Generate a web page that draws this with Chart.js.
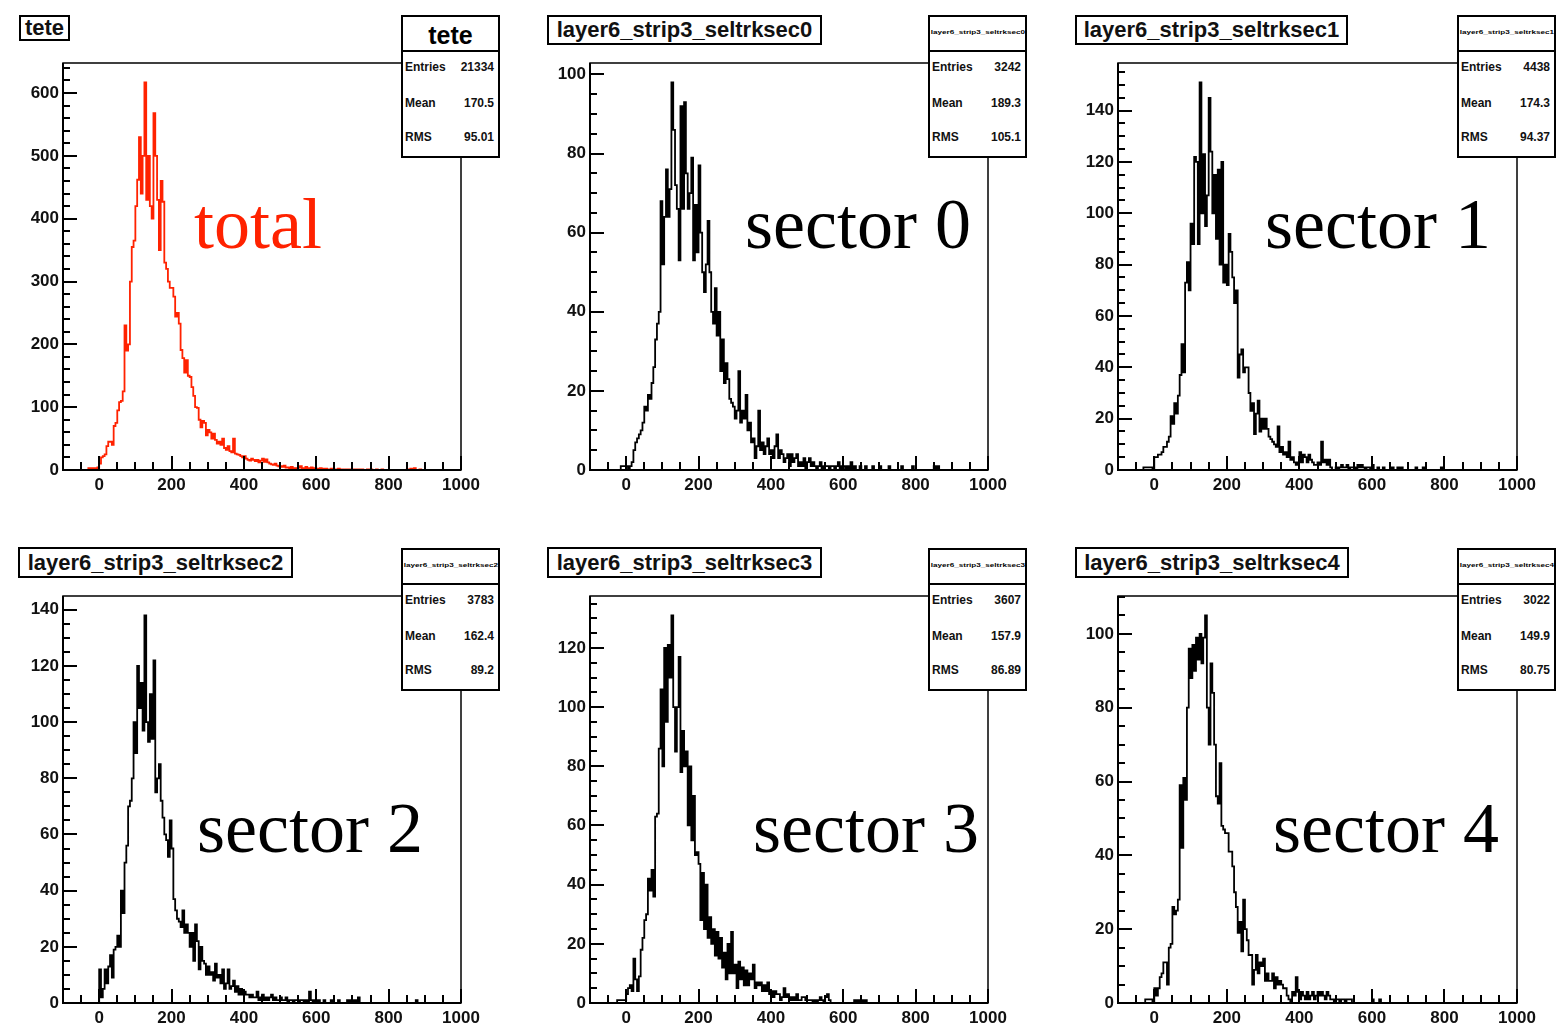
<!DOCTYPE html>
<html>
<head>
<meta charset="utf-8">
<title>layer6 strip3 seltrk</title>
<script src="https://cdn.jsdelivr.net/npm/chart.js@4"></script>
<style>
  html, body { margin: 0; padding: 0; background: #fff; }
  body { position: relative; width: 1556px; height: 1023px; overflow: hidden;
         font-family: "Liberation Sans", Arial, sans-serif; color: #000; }
  canvas { position: absolute; }
  .title { position: absolute; box-sizing: border-box; border: 2px solid #000; background: #fff;
           font-weight: bold; font-size: 22px; text-align: center; white-space: nowrap; color: #111; }
  .stats { position: absolute; box-sizing: border-box; width: 99px; height: 143px;
           border: 2px solid #000; background: #fff; z-index: 2; }
  .stats .hdr { position: absolute; left: 0; right: 0; top: 0; height: 33px; border-bottom: 2px solid #000;
                text-align: center; font-weight: bold; white-space: nowrap; overflow: visible; }
  .stats .hdr.big { font-size: 25px; line-height: 36px; }
  .stats .hdr.tiny span { display: inline-block; font-size: 6px; line-height: 30px; transform: scaleX(1.35); }
  .stats .row { position: absolute; left: 2px; right: 4px; height: 14px; line-height: 14px;
                font-size: 12px; font-weight: bold; display: flex; justify-content: space-between; color: #111; }
  .pad-label { position: absolute; font-family: "Liberation Serif", "Times New Roman", serif;
               font-size: 72px; line-height: 72px; white-space: nowrap; z-index: 1; }
</style>
</head>
<body>
<script>
// histogram binning: 5 units per bin, first bin starts at -30
const binStart = -30;
const binWidth = 5;
const xRange = [-100, 1000];
const xTickValues = [0, 200, 400, 600, 800, 1000];

const totalCounts = [
  3, 3, 3, 3, 3, 4,
  10, 20, 22, 25, 38, 45, 45, 40, 70, 75,
  95, 108, 110, 125, 230, 190, 200, 300, 355, 365,
  420, 462, 530, 440, 500, 617, 430, 500, 420, 400,
  568, 500, 430, 350, 460, 427, 330, 320, 300, 290,
  290, 276, 244, 250, 233, 191, 178, 155, 175, 150,
  148, 132, 118, 100, 99, 80, 68, 78, 75, 55,
  64, 60, 50, 58, 48, 42, 45, 40, 50, 35,
  32, 38, 30, 28, 50, 26, 25, 24, 22, 20,
  22, 18, 16, 15, 18, 16, 14, 16, 12, 15,
  18, 13, 17, 12, 10, 9, 8, 10, 7, 6,
  6, 5, 7, 4, 4, 3, 5, 3, 3, 2,
  4, 6, 3, 2, 5, 2, 3, 4, 2, 3,
  2, 1, 3, 2, 1, 2, 1, 1, 2, 1, 0, 1, 2, 1, 1, 0, 1, 1, 0, 1,
  1, 0, 1, 0, 1, 1, 0, 0, 1, 0, 1, 0, 0, 1, 0, 0, 1, 0, 0, 0,
  0, 0, 0, 0, 0, 0, 0, 0, 0, 0, 1, 0, 2, 0, 3, 0, 0, 1
];
const sec0Counts = [
  0, 0, 0, 1, 1, 1,
  1, 0, 1, 2, 5, 7, 8, 9, 10, 12,
  16, 15, 19, 18, 22, 26, 33, 37, 40, 68,
  52, 64, 76, 64, 71, 98, 86, 72, 66, 53,
  92, 66, 93, 75, 66, 70, 79, 53, 67, 55,
  77, 60, 50, 45, 52, 63, 50, 40, 37, 46,
  34, 40, 25, 33, 22, 27, 23, 18, 17, 16,
  13, 15, 25, 12, 15, 13, 19, 10, 12, 7,
  8, 3, 6, 15, 5, 7, 4, 6, 8, 4,
  5, 3, 6, 9, 3, 5, 4, 2, 3, 4,
  1, 4, 2, 3, 4, 1, 2, 1, 3, 0,
  2, 3, 1, 2, 1, 0, 1, 2, 0, 1,
  1, 1, 0, 1, 1, 0, 1, 2, 0, 1,
  1, 0, 1, 0, 2, 0, 1, 0, 0, 1,
  0, 0, 1, 0, 0, 0, 1, 0, 0, 0,
  1, 0, 0, 0, 0, 1, 0, 0, 0, 0,
  0, 0, 1, 0, 0, 0, 0, 0, 1, 0,
  0, 0, 0, 0, 0, 0, 0, 0, 0, 0,
  1, 0, 1
];
const sec1Counts = [
  1, 1, 1, 1, 1, 0,
  5, 5, 6, 6, 7, 9, 9, 11, 13, 21,
  18, 26, 22, 29, 37, 49, 38, 73, 81, 70,
  96, 88, 122, 120, 88, 151, 100, 123, 95, 107,
  145, 124, 100, 115, 90, 117, 80, 120, 73, 80,
  72, 92, 85, 75, 65, 70, 36, 45, 47, 38,
  40, 40, 30, 23, 26, 14, 22, 27, 15, 20,
  16, 20, 16, 13, 12, 11, 10, 9, 17, 7,
  9, 6, 7, 5, 11, 4, 5, 3, 2, 3,
  7, 3, 6, 5, 3, 6, 4, 3, 2, 2,
  3, 2, 11, 3, 4, 2, 4, 1, 0, 0,
  1, 0, 1, 2, 1, 1, 2, 0, 1, 1,
  1, 0, 2, 1, 2, 1, 0, 1, 1, 0,
  2, 0, 0, 1, 0, 0, 1, 0, 0, 0,
  0, 1, 0, 0, 1, 0, 1, 0, 0, 0,
  0, 0, 0, 0, 1, 0, 0, 0, 1, 0,
  0, 0, 0, 0, 0, 0, 0, 0, 1
];
const sec2Counts = [
  0, 0, 0, 0, 0, 0,
  12, 2, 5, 12, 7, 13, 17, 9, 19, 20,
  24, 20, 40, 32, 50, 56, 70, 72, 80, 100,
  89, 120, 105, 114, 97, 138, 100, 93, 110, 94,
  122, 75, 80, 85, 72, 66, 60, 58, 52, 65,
  55, 37, 33, 30, 29, 27, 33, 25, 28, 25,
  20, 25, 15, 28, 22, 12, 20, 15, 14, 10,
  13, 10, 11, 8, 14, 9, 10, 7, 12, 5,
  7, 12, 5, 6, 8, 4, 6, 3, 5, 3,
  4, 3, 3, 2, 3, 2, 2, 4, 1, 2,
  3, 1, 2, 1, 2, 3, 1, 2, 1, 1,
  2, 1, 1, 2, 0, 1, 1, 0, 1, 1,
  0, 1, 1, 0, 1, 0, 4, 1, 0, 1,
  0, 1, 0, 0, 1, 0, 0, 0, 1, 0,
  0, 0, 1, 0, 0, 0, 0, 1, 0, 1,
  0, 1, 0, 2, 0, 0, 0, 0, 0, 0,
  0, 0, 0, 0, 0, 0, 0, 0, 0, 0,
  0, 0, 0, 0, 0, 0, 0, 0, 0, 0,
  0, 0, 0, 0, 0, 1
];
const sec3Counts = [
  0, 1, 1, 1, 1, 1,
  3, 5, 6, 4, 15, 8, 4, 9, 18, 22,
  28, 30, 42, 38, 45, 36, 63, 64, 86, 106,
  80, 120, 95, 121, 110, 131, 100, 85, 100, 117,
  78, 92, 80, 85, 60, 80, 55, 70, 50, 51,
  47, 28, 44, 25, 40, 22, 29, 20, 25, 16,
  24, 15, 22, 12, 17, 8, 20, 10, 24, 10,
  13, 5, 14, 8, 12, 6, 11, 6, 10, 8,
  13, 5, 7, 6, 7, 4, 6, 4, 7, 3,
  4, 2, 4, 3, 3, 1, 2, 5, 2, 3,
  2, 1, 2, 1, 3, 1, 1, 2, 2, 1,
  1, 1, 1, 0, 1, 0, 1, 2, 1, 0,
  2, 3, 1, 0, 0, 0, 0, 0, 0, 0,
  0, 0, 0, 0, 0, 0, 1, 0, 1, 0,
  1, 0, 1
];
const sec4Counts = [
  0, 1, 1, 1, 1, 0,
  4, 2, 4, 7, 8, 11, 11, 5, 15, 16,
  26, 24, 25, 28, 59, 42, 61, 55, 80, 96,
  88, 97, 90, 99, 93, 100, 92, 99, 105, 80,
  70, 92, 84, 70, 56, 54, 65, 48, 47, 46,
  46, 41, 41, 37, 30, 26, 19, 22, 14, 28,
  20, 17, 13, 13, 5, 9, 13, 8, 11, 10,
  12, 6, 8, 6, 6, 8, 4, 7, 5, 6,
  5, 4, 4, 2, 1, 0, 3, 2, 7, 3,
  1, 3, 2, 1, 3, 1, 2, 3, 1, 2,
  3, 2, 3, 2, 1, 3, 2, 1, 1, 0,
  1, 1, 0, 1, 1, 0, 1, 1, 1, 0,
  0, 0, 0, 0, 0, 0, 0, 0, 0, 0,
  1, 0, 0, 0, 1
];

const histNames = ['tete', 'layer6_strip3_seltrksec0', 'layer6_strip3_seltrksec1',
                   'layer6_strip3_seltrksec2', 'layer6_strip3_seltrksec3', 'layer6_strip3_seltrksec4'];
const padLabels = ['total', 'sector 0', 'sector 1', 'sector 2', 'sector 3', 'sector 4'];
const entries = ['21334', '3242', '4438', '3783', '3607', '3022'];
const means = ['170.5', '189.3', '174.3', '162.4', '157.9', '149.9'];
const rmsValues = ['95.01', '105.1', '94.37', '89.2', '86.89', '80.75'];
const yTickValues = [
  [0, 100, 200, 300, 400, 500, 600],
  [0, 20, 40, 60, 80, 100],
  [0, 20, 40, 60, 80, 100, 120, 140],
  [0, 20, 40, 60, 80, 100, 120, 140],
  [0, 20, 40, 60, 80, 100, 120],
  [0, 20, 40, 60, 80, 100]
];
const countsList = [totalCounts, sec0Counts, sec1Counts, sec2Counts, sec3Counts, sec4Counts];

// page layout (pixels): plot frames [left, top, right, bottom], title boxes [left, top, width, height]
const frames = [
  [63, 63, 461, 470], [590, 63, 988, 470], [1118, 63, 1517, 470],
  [63, 596, 461, 1003], [590, 596, 988, 1003], [1118, 596, 1517, 1003]
];
const titleBoxes = [
  [19, 15, 51, 26], [547, 15, 275, 30], [1075, 15, 273, 30],
  [18, 547, 275, 31], [547, 547, 275, 31], [1075, 547, 274, 31]
];
const labelSpots = [[194, 248], [745, 248], [1265, 248], [197, 852], [753, 852], [1273, 852]];
const yMinorSteps = [20, 5, 5, 5, 5, 5];
const lineColors = ['#ff2200', '#000', '#000', '#000', '#000', '#000'];
const labelColors = ['#ff2200', '#000', '#000', '#000', '#000', '#000'];

Chart.defaults.font.family = "'Liberation Sans', Arial, sans-serif";

// outline of a histogram: flat top over each bin, vertical edges between bins
function histPoints(counts) {
  const pts = [{ x: binStart, y: 0 }];
  counts.forEach((c, i) => {
    const lo = binStart + i * binWidth;
    pts.push({ x: lo, y: c }, { x: lo + binWidth, y: c });
  });
  pts.push({ x: binStart + counts.length * binWidth, y: 0 });
  return pts;
}

// ROOT style frame with tick marks pointing inside
const rootFrame = {
  id: 'rootFrame',
  afterDatasetsDraw(chart, args, opts) {
    const { ctx, chartArea: a } = chart;
    const xs = chart.scales.x, ys = chart.scales.y;
    ctx.save();
    ctx.strokeStyle = '#000';
    ctx.lineWidth = 1.5;
    ctx.strokeRect(a.left, a.top, a.right - a.left, a.bottom - a.top);
    ctx.lineWidth = 2;
    ctx.beginPath();
    ctx.moveTo(a.left, a.top);
    ctx.lineTo(a.left, a.bottom);
    ctx.lineTo(a.right, a.bottom);
    for (let v = xs.min + opts.xMinor; v <= xs.max; v += opts.xMinor) {
      const px = Math.round(xs.getPixelForValue(v));
      const len = xTickValues.includes(v) ? 14 : 8;
      ctx.moveTo(px, a.bottom);
      ctx.lineTo(px, a.bottom - len);
    }
    for (let v = 0; v <= ys.max; v += opts.yMinor) {
      const py = Math.round(ys.getPixelForValue(v));
      const len = opts.yMajor.includes(v) ? 14 : 7;
      ctx.moveTo(a.left, py);
      ctx.lineTo(a.left + len, py);
    }
    ctx.stroke();
    ctx.restore();
  }
};

function addTitle(i) {
  const [l, t, w, h] = titleBoxes[i];
  const d = document.createElement('div');
  d.className = 'title';
  Object.assign(d.style, { left: l + 'px', top: t + 'px', width: w + 'px', height: h + 'px',
                           lineHeight: (h - 4) + 'px' });
  d.textContent = histNames[i];
  document.body.appendChild(d);
}

function addStats(i) {
  const f = frames[i];
  const box = document.createElement('div');
  box.className = 'stats';
  box.style.left = (f[2] - 60) + 'px';
  box.style.top = (f[1] - 48) + 'px';
  const hdr = document.createElement('div');
  hdr.className = 'hdr ' + (i === 0 ? 'big' : 'tiny');
  const span = document.createElement('span');
  span.textContent = histNames[i];
  hdr.appendChild(span);
  box.appendChild(hdr);
  const rows = [['Entries', entries[i]], ['Mean', means[i]], ['RMS', rmsValues[i]]];
  const centers = [52, 88, 122];
  rows.forEach(([k, v], r) => {
    const row = document.createElement('div');
    row.className = 'row';
    row.style.top = (centers[r] - 9) + 'px';
    const a = document.createElement('span');
    a.textContent = k;
    const b = document.createElement('span');
    b.textContent = v;
    row.append(a, b);
    box.appendChild(row);
  });
  document.body.appendChild(box);
}

function addLabel(i) {
  const [l, base] = labelSpots[i];
  const d = document.createElement('div');
  d.className = 'pad-label';
  d.style.left = l + 'px';
  d.style.top = (base - 60) + 'px';
  d.style.color = labelColors[i];
  d.textContent = padLabels[i];
  document.body.appendChild(d);
}

function addChart(i) {
  const [l, t, r, b] = frames[i];
  const padL = 60, padT = 10, padR = 25, padB = 35;
  const canvas = document.createElement('canvas');
  canvas.width = r - l + padL + padR;
  canvas.height = b - t + padT + padB;
  canvas.style.left = (l - padL) + 'px';
  canvas.style.top = (t - padT) + 'px';
  document.body.appendChild(canvas);

  const counts = countsList[i];
  const yMax = Math.max(...counts) * 1.05;
  const tickFont = { size: 17, weight: 'bold' };

  new Chart(canvas, {
    type: 'line',
    data: {
      datasets: [{
        data: histPoints(counts),
        borderColor: lineColors[i],
        borderWidth: 1.8,
        pointRadius: 0,
        fill: false,
        tension: 0
      }]
    },
    options: {
      responsive: false,
      animation: false,
      devicePixelRatio: 1,
      layout: { padding: { left: 0, top: padT, right: padR, bottom: 0 } },
      plugins: {
        legend: { display: false },
        tooltip: { enabled: false },
        rootFrame: { xMinor: 50, yMinor: yMinorSteps[i], yMajor: yTickValues[i] }
      },
      scales: {
        x: {
          type: 'linear',
          min: xRange[0],
          max: xRange[1],
          grid: { display: false, drawTicks: false },
          border: { display: false },
          ticks: { font: tickFont, color: '#111', padding: 5, maxRotation: 0, autoSkip: false,
                   callback: v => String(v) },
          afterBuildTicks: s => { s.ticks = xTickValues.map(v => ({ value: v })); },
          afterFit: s => { s.height = padB; s.paddingLeft = 0; s.paddingRight = 0; }
        },
        y: {
          type: 'linear',
          min: 0,
          max: yMax,
          grid: { display: false, drawTicks: false },
          border: { display: false },
          ticks: { font: tickFont, color: '#111', padding: 4, autoSkip: false,
                   callback: v => String(v) },
          afterBuildTicks: s => { s.ticks = yTickValues[i].map(v => ({ value: v })); },
          afterFit: s => { s.width = padL; s.paddingTop = 0; s.paddingBottom = 0; }
        }
      }
    },
    plugins: [rootFrame]
  });
}

for (let i = 0; i < frames.length; i++) {
  addChart(i);
  addTitle(i);
  addStats(i);
  addLabel(i);
}
</script>
</body>
</html>
